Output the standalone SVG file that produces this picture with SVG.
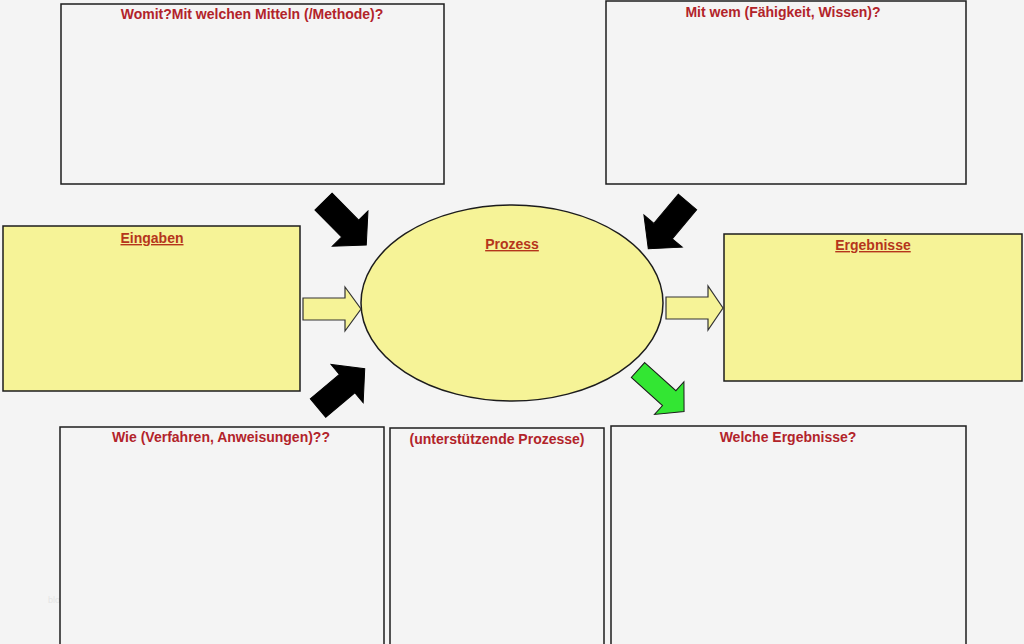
<svg xmlns="http://www.w3.org/2000/svg" width="1024" height="644" viewBox="0 0 1024 644">
<defs>
<style>
.box{fill:#f4f4f4;stroke:#1c1c1c;stroke-width:1.5}
.ybox{fill:#f6f397;stroke:#1c1c1c;stroke-width:1.5}
.t{font-family:"Liberation Sans",Arial,sans-serif;font-size:14px;font-weight:bold;fill:#b2232a;text-anchor:middle}
.u{fill:#b5351c;text-decoration:underline}
.blk{fill:#000;stroke:#000;stroke-width:1}
.grn{fill:#33e633;stroke:#1a1a1a;stroke-width:1}
.yar{fill:#f6f397;stroke:#333;stroke-width:1.2}
</style>
<path id="bigArrow" d="M0,-12 L38,-12 L38,-25 L61,0 L38,25 L38,12 L0,12 Z"/>
<path id="grnArrow" d="M0,-10 L42,-10 L42,-22 L62,0 L42,22 L42,10 L0,10 Z"/>
</defs>
<rect width="1024" height="644" fill="#f4f4f4"/>
<text x="48" y="603" font-family="Liberation Sans,sans-serif" font-size="9" fill="#e4e4e4">blog</text>
<g id="womit"><rect class="box" x="61" y="4" width="383" height="180"/><text class="t" x="252" y="19">Womit?Mit welchen Mitteln (/Methode)?</text></g>
<g id="mitwem"><rect class="box" x="606" y="1" width="360" height="183"/><text class="t" x="783" y="17">Mit wem (Fähigkeit, Wissen)?</text></g>
<g id="eingaben"><rect class="ybox" x="3" y="226" width="297" height="165"/><text class="t u" x="152" y="243">Eingaben</text></g>
<g id="prozess"><ellipse cx="512" cy="303" rx="151" ry="98" fill="#f6f397" stroke="#1c1c1c" stroke-width="1.5"/><text class="t u" x="512" y="249">Prozess</text></g>
<g id="ergebnisse"><rect class="ybox" x="724" y="234" width="298" height="147"/><text class="t u" x="873" y="250">Ergebnisse</text></g>
<g id="wie"><rect class="box" x="60" y="427" width="324" height="222"/><text class="t" x="221" y="442">Wie (Verfahren, Anweisungen)??</text></g>
<g id="unterst"><rect class="box" x="390" y="428" width="214" height="221"/><text class="t" x="497" y="444">(unterstützende Prozesse)</text></g>
<g id="welche"><rect class="box" x="611" y="426" width="355" height="223"/><text class="t" x="788" y="442">Welche Ergebnisse?</text></g>
<g id="connectors">
<use href="#bigArrow" class="blk" transform="translate(323.5,201.5) rotate(45.5)"/>
<use href="#bigArrow" class="blk" transform="translate(687.5,202) rotate(130)"/>
<use href="#bigArrow" class="blk" transform="translate(318,408) rotate(-40)"/>
<use href="#grnArrow" class="grn" transform="translate(638,370) rotate(42)"/>
<polygon class="yar" points="303,298 345,298 345,287 361,309 345,331 345,320 303,320"/>
<polygon class="yar" points="666,297 708,297 708,286 723,308 708,330 708,319 666,319"/>
</g>
</svg>
